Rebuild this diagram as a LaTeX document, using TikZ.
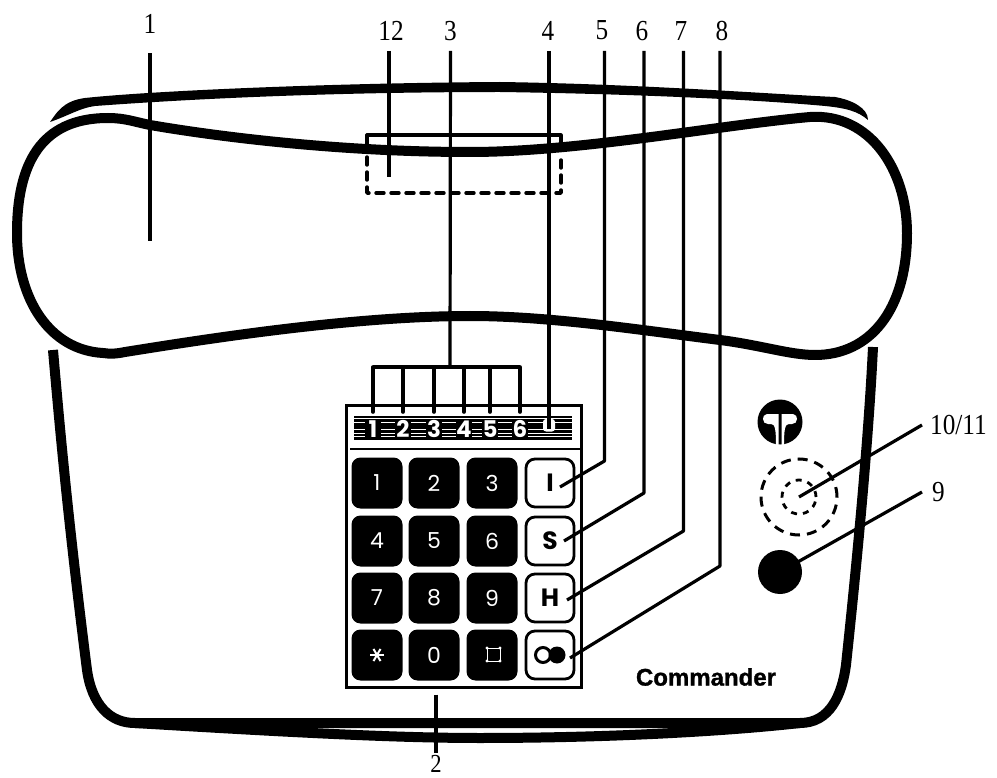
\documentclass[tikz,border=0pt]{standalone}
\usepackage{fontspec}
\setmainfont{Liberation Serif}
\newfontfamily\labelfont[FakeStretch=0.87]{Liberation Serif}
\newfontfamily\keyfont{Poppins}
\newfontfamily\brandfont[BoldFeatures={FakeBold=1.2}]{Liberation Sans}
\usetikzlibrary{shapes.geometric}
\tikzset{
  x=1pt,y=-1pt,
  callout/.style={font=\labelfont\fontsize{29}{29}\selectfont, inner sep=0pt, minimum height=40pt},
  leader/.style={line width=3.2pt, line join=round},
  hull/.style={line width=10pt, line join=round},
  darkkey/.style={fill=black, rounded corners=9pt, minimum width=51pt, minimum height=51pt, inner sep=0pt, text=white, font=\keyfont\fontsize{22}{22}\selectfont},
  lightkey/.style={draw=black, line width=2.8pt, fill=white, rounded corners=9pt, minimum width=48pt, minimum height=48pt, inner sep=0pt, font=\keyfont\bfseries\fontsize{25}{25}\selectfont},
  linedigit/.style={text=white, inner sep=0pt, font=\keyfont\bfseries\fontsize{23}{23}\selectfont},
  dashline/.style={line width=3.4pt, dash pattern=on 8pt off 7pt, line cap=round},
  ringline/.style={line width=3pt, dash pattern=on 10pt off 7pt},
  ringsmall/.style={line width=2.8pt, dash pattern=on 6pt off 6pt},
}
\begin{document}
\begin{tikzpicture}
\useasboundingbox (0,0) rectangle (997,778);
\fill[white] (0,0) rectangle (997,778);

% labels
\node[callout] (l1) at (150,24) {1};
\node[callout] (l12) at (391,30.6) {12};
\node[callout] (l3) at (450.5,30.6) {3};
\node[callout] (l4) at (548,30.6) {4};
\node[callout] (l5) at (602,30.6) {5};
\node[callout] (l6) at (642,30.6) {6};
\node[callout] (l7) at (681,30.6) {7};
\node[callout] (l8) at (722,30.6) {8};
\node[callout,anchor=west] (l9) at (932,492) {9};
\node[callout,anchor=west] (l10) at (930,425) {10/11};
\node[callout,minimum height=0pt,font=\labelfont\fontsize{26}{26}\selectfont] (l2) at (436,764) {2};

% top arc (tapered)
\fill (50,122) .. controls (56,114) and (62,101) .. (85,98)
  .. controls (150,91) and (330,83) .. (500,82)
  .. controls (640,84) and (770,94) .. (835,97)
  .. controls (852,100) and (868,108) .. (868,120)
  .. controls (858,111) and (845,108) .. (825,106)
  .. controls (760,100) and (640,94) .. (500,92)
  .. controls (330,92) and (190,99) .. (95,106)
  .. controls (80,108) and (70,115) .. (50,122) -- cycle;

% handset
\draw[hull] (108,118) .. controls (125,118) and (135,122) .. (150,125)
  .. controls (220,137) and (340,152) .. (470,152)
  .. controls (580,152) and (720,125) .. (810,117)
  .. controls (870,113) and (907,170) .. (907,233)
  .. controls (907,310) and (870,355) .. (815,355)
  .. controls (790,355) and (760,345) .. (720,340)
  .. controls (640,330) and (550,316) .. (470,316)
  .. controls (350,316) and (200,340) .. (125,352)
  .. controls (115,354) and (110,354) .. (103,353)
  .. controls (50,350) and (17,300) .. (17,233)
  .. controls (17,165) and (40,118) .. (108,118) -- cycle;

% base
\draw[hull] (53,350) .. controls (60,430) and (68,520) .. (87,670)
  .. controls (92,705) and (110,723) .. (135,723) -- (800,723)
  .. controls (830,723) and (842,695) .. (846,665)
  .. controls (855,580) and (868,450) .. (873,347);
\draw[line width=10pt] (135,723) .. controls (300,733) and (400,738) .. (480,738)
  .. controls (600,738) and (720,732) .. (800,723);

% dashed box in the handset
\draw[line width=3.2pt, line join=round] (367,148) -- (367,135) -- (561,135) -- (561,148);
\draw[dashline, line join=round] (367,157) -- (367,193) -- (561,193) -- (561,155);

% key panel
\node[draw=black, line width=3pt, minimum width=235pt, minimum height=282pt, inner sep=0pt] (panel) at (463.5,546) {};
\draw[line width=1.8pt] (350,449) -- (panel.east |- 0,449);

% indicator strip
\foreach \y in {417,420.6,...,442}
  \draw[line width=2.7pt] (354,\y) -- (572,\y);
\foreach \x/\d in {373/1,403/2,434/3,464/4,490/5,520/6}{
  \fill (\x-8,419) rectangle (\x+8,440);
  \node[linedigit] (d\d) at (\x,429) {\d};
}
\fill[white, rounded corners=3pt] (543,419) rectangle (555,431.5);
\coordinate (ind) at (549,429);

% keys
\node[darkkey] (k1) at (377,483) {1};
\node[darkkey] (k2) at (434,483) {2};
\node[darkkey] (k3) at (492,483) {3};
\node[darkkey] (k4) at (377,541) {4};
\node[darkkey] (k5) at (434,541) {5};
\node[darkkey] (k6) at (492,541) {6};
\node[darkkey] (k7) at (377,598) {7};
\node[darkkey] (k8) at (434,598) {8};
\node[darkkey] (k9) at (492,598) {9};
\node[darkkey] (kstar) at (377,655) {};
\node[darkkey] (k0) at (434,655) {0};
\node[darkkey] (khash) at (492,655) {};
\node[lightkey] (kI) at (550,483) {I};
\node[lightkey] (kS) at (550,541) {S};
\node[lightkey] (kH) at (550,598) {H};
\node[lightkey] (kO) at (550,655) {};

% star, square and hold icons
\foreach \a in {0,60,120}
  \draw[white,line width=2pt] ([shift={(\a:7)}]kstar.center) -- ([shift={(\a+180:7)}]kstar.center);
\draw[white,line width=0.9pt] (487,648) rectangle (500,661);
\foreach \p in {(487,648),(500,648),(487,661),(500,661)}
  \fill[white] \p circle (1.6);
\draw[line width=3pt] (543,655) circle (7.5);
\fill (557,655) circle (8.5);

% leader lines
\draw[leader] ([yshift=-9pt]l1.south) -- (150,241);
\draw[leader] ([xshift=-2pt]l12.south) -- (389,177);
\coordinate (bus3) at (450,367);
\draw[leader] (l3.south) -- (bus3);
\draw[line width=3.6pt, line cap=square] (373,367) -- (520,367);
\foreach \d in {1,2,3,4,5,6}
  \draw[line width=3.6pt, line cap=round] (d\d |- bus3) -- (d\d |- 0,412);
\draw[leader] ([xshift=1pt]l4.south) -- (ind);
\coordinate (e5) at (560,487);
\coordinate (e6) at (564,541);
\coordinate (e7) at (567,600);
\coordinate (e8) at (570,658);
\draw[leader] ([xshift=2.5pt]l5.south) -- (604.5,461) -- (e5);
\draw[leader] ([xshift=2pt]l6.south) -- (644,493) -- (e6);
\draw[leader] ([xshift=2.5pt]l7.south) -- (683.5,531) -- (e7);
\draw[leader] ([xshift=-2pt]l8.south) -- (720,566) -- (e8);
\draw[leader] ([yshift=-6pt]panel.south -| l2.north) -- ([yshift=2pt]l2.north);

% logo
\node[circle, fill=black, minimum size=45pt, inner sep=0pt] (logo) at (780,422) {};
\fill[white] (778.5,414) -- (767,414) .. controls (764,414) and (763,417) .. (763,419)
  .. controls (763,422) and (765,424) .. (768,424) -- (771,424)
  .. controls (775,424) and (776,429) .. (776,446) -- (778.5,446) -- cycle;
\fill[white] (781.5,414) -- (793,414) .. controls (796,414) and (797,417) .. (797,419)
  .. controls (797,422) and (795,424) .. (792,424) -- (789,424)
  .. controls (785,424) and (784,429) .. (784,446) -- (781.5,446) -- cycle;

% speaker rings and lamp
\node[circle, draw=black, ringline, minimum size=76pt, inner sep=0pt] (ringA) at (799,497) {};
\node[circle, draw=black, ringsmall, minimum size=34pt, inner sep=0pt] (ringB) at (799,497) {};
\node[circle, fill=black, minimum size=44pt, inner sep=0pt] (lamp) at (780,572) {};
\draw[leader] (ringA.center) -- ([xshift=-8pt]l10.west);
\draw[leader] (lamp.center) -- ([xshift=-10pt]l9.west);

% brand
\node[inner sep=0pt, font=\brandfont\bfseries\fontsize{24}{24}\selectfont] (brand) at (706,677) {Commander};
\end{tikzpicture}
\end{document}
